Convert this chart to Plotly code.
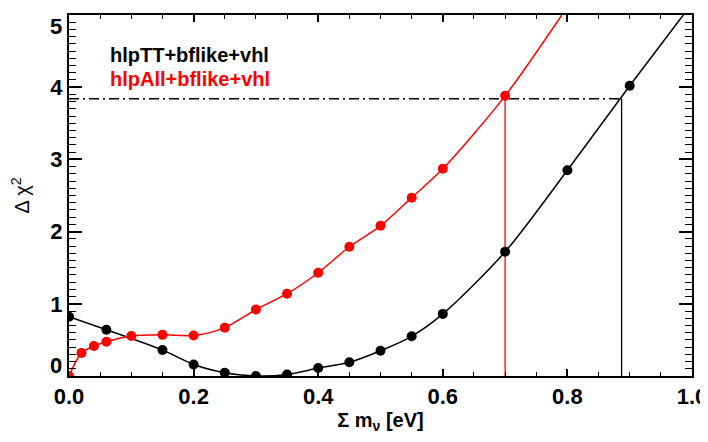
import plotly.graph_objects as go

# Data
tt_x = [0.0, 0.06, 0.15, 0.20, 0.25, 0.30, 0.35, 0.40, 0.45, 0.50, 0.55, 0.60, 0.70, 0.80, 0.90]
tt_y = [0.82, 0.64, 0.36, 0.16, 0.046, 0.0, 0.02, 0.11, 0.19, 0.35, 0.55, 0.86, 1.72, 2.85, 4.02]
tt_curve_end = (0.986, 5.0)

all_x = [0.0, 0.02, 0.04, 0.06, 0.10, 0.15, 0.20, 0.25, 0.30, 0.35, 0.40, 0.45, 0.50, 0.55, 0.60, 0.70]
all_y = [0.0, 0.32, 0.415, 0.475, 0.554, 0.57, 0.56, 0.67, 0.92, 1.14, 1.43, 1.79, 2.08, 2.47, 2.87, 3.88]
all_curve_end = (0.791, 5.0)

cl95 = 3.84
limit_tt = 0.887
limit_all = 0.70

label_tt = "hlpTT+bflike+vhl"
label_all = "hlpAll+bflike+vhl"

y_tick_vals = [0, 1, 2, 3, 4, 5]
y_tick_text = ["0", "1", "2", "3", "4", "5"]

fig = go.Figure()

# dash-dot 95% line
fig.add_trace(go.Scatter(x=[0, limit_tt], y=[cl95, cl95], mode="lines",
                         line=dict(color="black", width=1.5, dash="10px,4px,2px,4px"),
                         hoverinfo="skip"))
fig.add_trace(go.Scatter(x=[limit_tt, limit_tt], y=[0, cl95], mode="lines",
                         line=dict(color="black", width=1.3), hoverinfo="skip"))
fig.add_trace(go.Scatter(x=[limit_all, limit_all], y=[0, cl95], mode="lines",
                         line=dict(color="red", width=1.3), hoverinfo="skip"))

# curves
fig.add_trace(go.Scatter(x=tt_x + [tt_curve_end[0]], y=tt_y + [tt_curve_end[1]], mode="lines",
                         line=dict(color="black", width=1.5, shape="spline", smoothing=0.8)))
fig.add_trace(go.Scatter(x=all_x + [all_curve_end[0]], y=all_y + [all_curve_end[1]], mode="lines",
                         line=dict(color="red", width=1.5, shape="spline", smoothing=0.8)))
# markers
fig.add_trace(go.Scatter(x=tt_x, y=tt_y, mode="markers",
                         marker=dict(color="black", size=10)))
fig.add_trace(go.Scatter(x=all_x, y=all_y, mode="markers",
                         marker=dict(color="red", size=10)))

font_main = "Liberation Sans, Arial, sans-serif"
font_narrow = "Liberation Sans Narrow, Arial Narrow, Liberation Sans, sans-serif"

fig.add_annotation(x=0.063, y=4.45, xref="x", yref="y", text="<b>%s</b>" % label_tt,
                   showarrow=False, xanchor="left", yanchor="middle",
                   font=dict(family=font_main, size=20, color="black"))
fig.add_annotation(x=0.063, y=4.11, xref="x", yref="y", text="<b>%s</b>" % label_all,
                   showarrow=False, xanchor="left", yanchor="middle",
                   font=dict(family=font_main, size=20, color="red"))

tick_font = dict(family=font_narrow, size=22, weight="bold", color="black")

# inner y tick labels drawn by the axis; the end labels sit inside the axis span
inner_text = [t if 0 < i < len(y_tick_text) - 1 else "" for i, t in enumerate(y_tick_text)]
fig.add_annotation(x=0, y=y_tick_vals[0], xref="paper", yref="y", text="<b>%s</b>" % y_tick_text[0],
                   showarrow=False, xanchor="right", yanchor="bottom", xshift=-5, yshift=-4,
                   font=tick_font)
fig.add_annotation(x=0, y=y_tick_vals[-1], xref="paper", yref="y", text="<b>%s</b>" % y_tick_text[-1],
                   showarrow=False, xanchor="right", yanchor="top", xshift=-5, yshift=3,
                   font=tick_font)

# page body adds an 8px offset, so the figure is sized to fit the remaining window
fig.update_layout(
    width=700, height=426,
    margin=dict(l=61, r=16, t=7, b=58, autoexpand=False),
    paper_bgcolor="white", plot_bgcolor="white",
    showlegend=False,
    font=dict(family=font_main, color="black"),
    xaxis=dict(
        range=[0, 1.0], dtick=0.2, tick0=0, tickformat=".1f", automargin=False,
        ticklabeloverflow="allow",
        showgrid=False, zeroline=False,
        showline=True, linecolor="black", linewidth=2, mirror="allticks",
        ticks="inside", ticklen=7, tickwidth=1.5, tickcolor="black",
        tickfont=tick_font,
        title=dict(text="<b>Σ m<sub>ν</sub> [eV]</b>", font=dict(family=font_main, size=20), standoff=6),
    ),
    yaxis=dict(
        range=[0, 5], tickmode="array", tickvals=y_tick_vals, ticktext=inner_text,
        automargin=False, ticklabeloverflow="allow",
        showgrid=False, zeroline=False,
        showline=True, linecolor="black", linewidth=2, mirror="allticks",
        ticks="inside", ticklen=13, tickwidth=1.5, tickcolor="black",
        tickfont=tick_font,
        title=dict(text="Δ χ<sup>2</sup>", font=dict(family=font_main, size=20), standoff=48),
    ),
    # minor tick axes
    xaxis2=dict(
        range=[0, 1.0], dtick=0.05, tick0=0, overlaying="x", anchor="y", side="bottom",
        showgrid=False, zeroline=False, showline=False, showticklabels=False,
        mirror="allticks", ticks="inside", ticklen=4, tickwidth=1.2, tickcolor="black",
        automargin=False,
    ),
    yaxis2=dict(
        range=[0, 5], dtick=0.1, tick0=0, overlaying="y", anchor="x", side="left",
        showgrid=False, zeroline=False, showline=False, showticklabels=False,
        mirror="allticks", ticks="inside", ticklen=7, tickwidth=1.2, tickcolor="black",
        automargin=False,
    ),
)
# invisible trace so the minor-tick axes are drawn
fig.add_trace(go.Scatter(x=[None], y=[None], xaxis="x2", yaxis="y2", mode="markers",
                         showlegend=False, hoverinfo="skip"))

fig.write_html("out.html")
